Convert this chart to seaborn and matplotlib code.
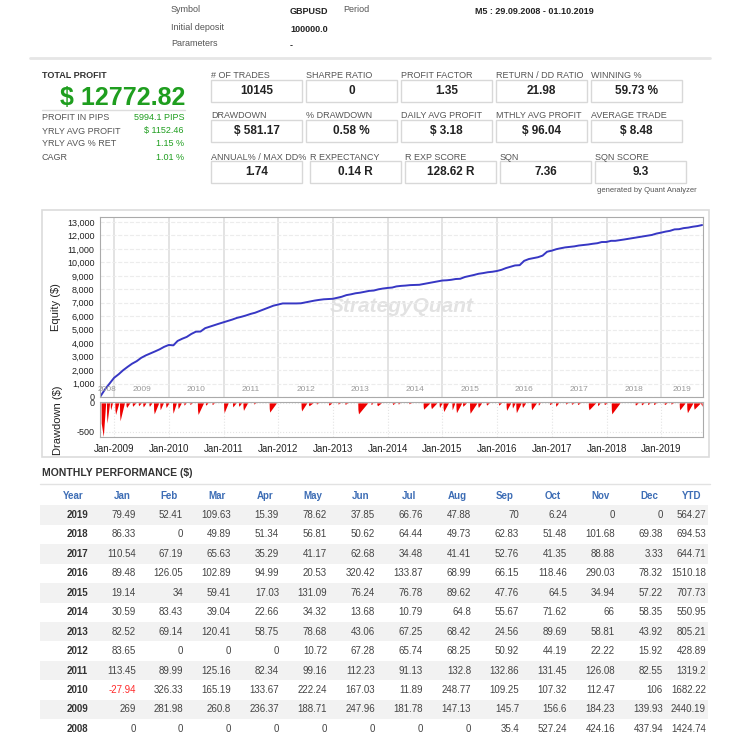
import numpy as np
import pandas as pd
import matplotlib
matplotlib.use("Agg")
import matplotlib.pyplot as plt
import matplotlib.dates as mdates
from matplotlib.patches import Rectangle
import seaborn as sns

# ---------------- data ----------------
months = ["Jan", "Feb", "Mar", "Apr", "May", "Jun", "Jul", "Aug", "Sep", "Oct", "Nov", "Dec"]
years = [2019, 2018, 2017, 2016, 2015, 2014, 2013, 2012, 2011, 2010, 2009, 2008]
m2019 = [79.49, 52.41, 109.63, 15.39, 78.62, 37.85, 66.76, 47.88, 70, 6.24, 0, 0]
m2018 = [86.33, 0, 49.89, 51.34, 56.81, 50.62, 64.44, 49.73, 62.83, 51.48, 101.68, 69.38]
m2017 = [110.54, 67.19, 65.63, 35.29, 41.17, 62.68, 34.48, 41.41, 52.76, 41.35, 88.88, 3.33]
m2016 = [89.48, 126.05, 102.89, 94.99, 20.53, 320.42, 133.87, 68.99, 66.15, 118.46, 290.03, 78.32]
m2015 = [19.14, 34, 59.41, 17.03, 131.09, 76.24, 76.78, 89.62, 47.76, 64.5, 34.94, 57.22]
m2014 = [30.59, 83.43, 39.04, 22.66, 34.32, 13.68, 10.79, 64.8, 55.67, 71.62, 66, 58.35]
m2013 = [82.52, 69.14, 120.41, 58.75, 78.68, 43.06, 67.25, 68.42, 24.56, 89.69, 58.81, 43.92]
m2012 = [83.65, 0, 0, 0, 10.72, 67.28, 65.74, 68.25, 50.92, 44.19, 22.22, 15.92]
m2011 = [113.45, 89.99, 125.16, 82.34, 99.16, 112.23, 91.13, 132.8, 132.86, 131.45, 126.08, 82.55]
m2010 = [-27.94, 326.33, 165.19, 133.67, 222.24, 167.03, 11.89, 248.77, 109.25, 107.32, 112.47, 106]
m2009 = [269, 281.98, 260.8, 236.37, 188.71, 247.96, 181.78, 147.13, 145.7, 156.6, 184.23, 139.93]
m2008 = [0, 0, 0, 0, 0, 0, 0, 0, 35.4, 527.24, 424.16, 437.94]
ytd = [564.27, 694.53, 644.71, 1510.18, 707.73, 550.95, 805.21, 428.89, 1319.2, 1682.22, 2440.19, 1424.74]
monthly = [m2019, m2018, m2017, m2016, m2015, m2014, m2013, m2012, m2011, m2010, m2009, m2008]

# drawdown dips: start, bottom, end, depth ($)
dd_start = ["2008-10-05", "2008-11-10", "2008-12-05", "2009-01-05", "2009-02-05", "2009-03-20", "2009-05-01",
            "2009-06-10", "2009-07-10", "2009-08-20", "2009-09-20", "2009-11-01", "2009-12-10", "2010-01-25",
            "2010-03-01", "2010-04-10", "2010-05-20", "2010-07-10", "2010-09-01", "2010-10-15", "2011-01-01",
            "2011-03-01", "2011-04-10", "2011-05-10", "2011-07-20", "2011-11-01", "2012-06-01", "2012-07-20",
            "2012-09-10", "2012-12-01", "2013-02-01", "2013-03-20", "2013-06-15", "2013-09-10", "2013-10-20",
            "2014-02-01", "2014-03-10", "2014-05-20", "2014-08-25", "2014-10-15", "2014-12-10", "2015-01-05",
            "2015-03-05", "2015-04-01", "2015-05-15", "2015-07-01", "2015-08-25", "2015-10-20", "2016-01-10",
            "2016-03-01", "2016-04-10", "2016-05-05", "2016-06-15", "2016-08-15", "2016-10-01", "2016-12-15",
            "2017-01-25", "2017-04-01", "2017-05-10", "2017-06-20", "2017-09-01", "2017-11-01", "2017-12-15",
            "2018-02-01", "2018-07-10", "2018-08-20", "2018-10-01", "2018-11-10", "2019-01-20", "2019-03-05",
            "2019-05-01", "2019-06-20", "2019-08-05"]
dd_bottom = ["2008-10-20", "2008-11-14", "2008-12-08", "2009-01-10", "2009-02-09", "2009-03-25", "2009-05-04",
             "2009-06-13", "2009-07-14", "2009-08-24", "2009-09-25", "2009-11-04", "2009-12-14", "2010-01-29",
             "2010-03-04", "2010-04-13", "2010-05-22", "2010-07-15", "2010-09-04", "2010-10-18", "2011-01-05",
             "2011-03-04", "2011-04-14", "2011-05-14", "2011-07-22", "2011-11-05", "2012-06-05", "2012-07-25",
             "2012-09-13", "2012-12-05", "2013-02-03", "2013-03-23", "2013-06-20", "2013-09-13", "2013-10-25",
             "2014-02-03", "2014-03-13", "2014-05-23", "2014-08-29", "2014-10-20", "2014-12-13", "2015-01-10",
             "2015-03-08", "2015-04-05", "2015-05-18", "2015-07-05", "2015-08-29", "2015-10-23", "2016-01-13",
             "2016-03-05", "2016-04-13", "2016-05-09", "2016-06-19", "2016-08-19", "2016-10-03", "2016-12-18",
             "2017-01-28", "2017-04-03", "2017-05-13", "2017-06-23", "2017-09-06", "2017-11-03", "2017-12-18",
             "2018-02-05", "2018-07-13", "2018-08-23", "2018-10-03", "2018-11-13", "2019-01-23", "2019-03-08",
             "2019-05-05", "2019-06-25", "2019-08-09"]
dd_end = ["2008-11-05", "2008-12-01", "2008-12-20", "2009-02-01", "2009-03-10", "2009-04-15", "2009-05-25",
          "2009-07-01", "2009-08-01", "2009-09-10", "2009-10-25", "2009-11-25", "2010-01-01", "2010-02-20",
          "2010-03-25", "2010-04-25", "2010-06-05", "2010-08-20", "2010-09-20", "2010-11-01", "2011-02-01",
          "2011-03-25", "2011-05-01", "2011-06-10", "2011-08-05", "2011-12-20", "2012-07-10", "2012-08-20",
          "2012-09-25", "2012-12-25", "2013-02-20", "2013-04-10", "2013-08-20", "2013-09-25", "2013-11-20",
          "2014-02-20", "2014-03-25", "2014-06-10", "2014-10-10", "2014-11-25", "2014-12-30", "2015-02-10",
          "2015-03-25", "2015-05-10", "2015-06-10", "2015-08-20", "2015-09-20", "2015-11-10", "2016-01-30",
          "2016-04-01", "2016-05-01", "2016-06-10", "2016-07-10", "2016-09-20", "2016-10-15", "2017-01-05",
          "2017-02-15", "2017-04-20", "2017-05-30", "2017-07-10", "2017-10-20", "2017-11-20", "2018-01-05",
          "2018-04-01", "2018-08-01", "2018-09-10", "2018-10-20", "2018-11-30", "2019-02-10", "2019-03-25",
          "2019-06-10", "2019-08-01", "2019-09-20"]
dd_depth = [-581, -350, -120, -200, -310, -80, -60, -50, -70, -60, -190, -120, -80, -180,
            -100, -40, -30, -200, -40, -30, -170, -70, -60, -130, -20, -160, -140, -50,
            -20, -40, -20, -25, -190, -30, -50, -30, -20, -15, -110, -100, -80, -150,
            -120, -170, -60, -180, -80, -40, -40, -130, -90, -170, -80, -120, -40, -30,
            -60, -20, -25, -30, -120, -50, -30, -190, -40, -35, -30, -30, -30, -20,
            -120, -170, -110]

# ---------------- derived tables ----------------
rows = []
for y, vals in zip(years, monthly):
    for mi, v in enumerate(vals):
        rows.append({"year": y, "month": mi + 1, "profit": v})
mdf = pd.DataFrame(rows)
mdf["date"] = pd.to_datetime(dict(year=mdf.year, month=mdf.month, day=1)) + pd.offsets.MonthEnd(0)
mdf = mdf.sort_values("date")
mdf = mdf[(mdf.date >= "2008-09-01") & (mdf.date <= "2019-10-31")].copy()
mdf.loc[mdf.date == pd.Timestamp("2019-10-31"), "date"] = pd.Timestamp("2019-10-01")
eq = pd.concat([pd.DataFrame({"date": [pd.Timestamp("2008-09-29")], "equity": [0.0]}),
                pd.DataFrame({"date": mdf.date.values, "equity": mdf.profit.cumsum().values})])

dd_x, dd_y = [pd.Timestamp("2008-09-29")], [0.0]
for s, b, e, d in zip(dd_start, dd_bottom, dd_end, dd_depth):
    dd_x += [pd.Timestamp(s), pd.Timestamp(s) + pd.Timedelta(days=1), pd.Timestamp(b), pd.Timestamp(e)]
    dd_y += [0.0, d * 0.6, d, 0.0]
dd_x.append(pd.Timestamp("2019-10-01")); dd_y.append(-60.0)
dd = pd.DataFrame({"date": dd_x, "dd": dd_y})

# ---------------- figure ----------------
sns.set_style("white")
plt.rcParams["font.family"] = ["Liberation Sans", "DejaVu Sans"]
plt.rcParams["axes.unicode_minus"] = False
W, H = 736, 750
fig = plt.figure(figsize=(W / 100, H / 100), dpi=100)
fig.patch.set_facecolor("white")

GREEN = "#1f9e1f"
LAB = "#555555"
DARK = "#222222"
BLUE_H = "#3d6db5"


def T(x, y, s, **kw):
    kw.setdefault("va", "center")
    return fig.text(x / W, 1 - y / H, s, **kw)


def R(x, y, w, h, **kw):
    r = Rectangle((x / W, 1 - (y + h) / H), w / W, h / H, transform=fig.transFigure, **kw)
    fig.add_artist(r)
    return r


def HL(x0, x1, y, **kw):
    fig.add_artist(plt.Line2D([x0 / W, x1 / W], [1 - y / H, 1 - y / H], transform=fig.transFigure, **kw))


# header
T(171, 10, "Symbol", fontsize=6.5, color=LAB)
T(290, 12, "GBPUSD", fontsize=6.5, color=DARK, fontweight="bold")
T(343, 10, "Period", fontsize=6.5, color=LAB)
T(475, 12, "M5 : 29.09.2008 - 01.10.2019", fontsize=6.5, color=DARK, fontweight="bold")
T(171, 27, "Initial deposit", fontsize=6.5, color=LAB)
T(290, 29, "100000.0", fontsize=6.5, color=DARK, fontweight="bold")
T(171, 44, "Parameters", fontsize=6.5, color=LAB)
T(290, 46, "-", fontsize=6.5, color=DARK, fontweight="bold")
HL(30, 710, 58, color="#e6e6e6", lw=2)

# left stats
T(42, 76, "TOTAL PROFIT", fontsize=6.5, color="#333333", fontweight="bold")
T(185, 98, "$ 12772.82", fontsize=18, color=GREEN, fontweight="bold", ha="right")
HL(42, 185, 110, color="#dddddd", lw=1)
for yy, lab, val in [(118, "PROFIT IN PIPS", "5994.1 PIPS"), (131, "YRLY AVG PROFIT", "$ 1152.46"),
                     (144, "YRLY AVG % RET", "1.15 %"), (157, "CAGR", "1.01 %")]:
    T(42, yy, lab, fontsize=6.5, color=LAB)
    T(184, yy, val, fontsize=6.5, color=GREEN, ha="right")

# stat boxes
box_rows = [
    (76, 80, [("# OF TRADES", "10145"), ("SHARPE RATIO", "0"), ("PROFIT FACTOR", "1.35"),
              ("RETURN / DD RATIO", "21.98"), ("WINNING %", "59.73 %")], [211, 306, 401, 496, 591]),
    (116, 120, [("DRAWDOWN", "$ 581.17"), ("% DRAWDOWN", "0.58 %"), ("DAILY AVG PROFIT", "$ 3.18"),
                ("MTHLY AVG PROFIT", "$ 96.04"), ("AVERAGE TRADE", "$ 8.48")], [211, 306, 401, 496, 591]),
    (157, 161, [("ANNUAL% / MAX DD%", "1.74"), ("R EXPECTANCY", "0.14 R"), ("R EXP SCORE", "128.62 R"),
                ("SQN", "7.36"), ("SQN SCORE", "9.3")], [211, 310, 405, 500, 595]),
]
for ly, by, items, xs in box_rows:
    for x, (lab, val) in zip(xs, items):
        T(x, ly, lab, fontsize=6.5, color=LAB)
        R(x, by, 91, 22, fill=False, ec="#d8d8d8", lw=1)
        T(x + 45.5, by + 11, val, fontsize=8.5, color=DARK, fontweight="bold", ha="center")
T(597, 191, "generated by Quant Analyzer", fontsize=5.5, color=LAB)

# chart panel
R(42, 210, 667, 247, fill=False, ec="#dcdcdc", lw=1.2)
x0, x1 = pd.Timestamp("2008-09-28"), pd.Timestamp("2019-10-07")
ax1 = fig.add_axes([100 / W, 1 - 397 / H, 603 / W, 180 / H])
ax2 = fig.add_axes([100 / W, 1 - 437 / H, 603 / W, 35 / H])

sns.lineplot(data=eq, x="date", y="equity", ax=ax1, color="#3737c4", lw=1.4)
ax1.set_xlim(x0, x1)
ax1.set_ylim(0, 13370)
ax1.set_yticks(np.arange(0, 13001, 1000))
ax1.yaxis.set_major_formatter(matplotlib.ticker.FuncFormatter(lambda v, p: f"{int(v):,}"))
ax1.set_xticks([pd.Timestamp(f"{y}-01-01") for y in range(2009, 2020)])
ax1.set_xticklabels([])
ax1.tick_params(axis="x", length=0)
ax1.tick_params(axis="y", labelsize=6.5, colors=DARK, length=2, pad=2)
ax1.grid(axis="x", color="#dedede", lw=1.2, ls="-")
ax1.grid(axis="y", color="#ececec", lw=0.8, ls="--")
ax1.set_axisbelow(True)
ax1.set_xlabel("")
ax1.set_ylabel("Equity ($)", fontsize=8, color=DARK, labelpad=4)
for s in ax1.spines.values():
    s.set_color("#aaaaaa")
for y in range(2008, 2020):
    a = max(pd.Timestamp(f"{y}-01-01"), x0)
    b = min(pd.Timestamp(f"{y + 1}-01-01"), x1)
    mid = a + (b - a) / 2
    ax1.text(mid, 550, str(y), fontsize=6, color="#999999", ha="center", va="center")
ax1.text(0.5, 0.5, "StrategyQuant", transform=ax1.transAxes, fontsize=15, color="#e2e2e2",
         fontweight="bold", style="italic", ha="center", va="center", zorder=0)

ax2.fill_between(dd.date, dd.dd, 0, color="#ee0000", lw=0)
ax2.set_xlim(x0, x1)
ax2.set_ylim(-590, 15)
ax2.set_yticks([0, -500])
ax2.set_xticks([pd.Timestamp(f"{y}-01-01") for y in range(2009, 2020)])
ax2.xaxis.set_major_formatter(mdates.DateFormatter("%b-%Y"))
ax2.tick_params(axis="x", labelsize=7, colors=DARK, length=2, pad=3)
ax2.tick_params(axis="y", labelsize=6.5, colors=DARK, length=2, pad=2)
ax2.grid(axis="x", color="#e4e4e4", lw=0.8, ls=":")
ax2.grid(axis="y", color="#e4e4e4", lw=0.8, ls=":")
ax2.set_axisbelow(True)
for s in ax2.spines.values():
    s.set_color("#aaaaaa")
ax2.set_xlabel("")
ax2.set_ylabel("")
T(58, 420, "Drawdown ($)", fontsize=8, color=DARK, rotation=90, ha="center")

# monthly performance table
T(42, 473, "MONTHLY PERFORMANCE ($)", fontsize=7.5, color="#333333", fontweight="bold")
HL(40, 710, 484, color="#e2e2e2", lw=1)
headers = ["Year"] + months + ["YTD"]
right_edges = [88, 136, 183, 231, 279, 327, 375, 423, 471, 519, 567, 615, 663, 706]
for h, re in zip(headers, right_edges):
    cx = 73 if h == "Year" else (692 if h == "YTD" else re - 14)
    T(cx, 496, h, fontsize=7, color=BLUE_H, fontweight="bold", ha="center")
row_y0, row_h = 515, 19.45
for i, (y, vals, t) in enumerate(zip(years, monthly, ytd)):
    yy = row_y0 + i * row_h
    if i % 2 == 0:
        R(40, yy - row_h / 2, 668, row_h, color="#f2f2f2", lw=0)
    T(right_edges[0], yy, str(y), fontsize=7, color="#333333", fontweight="bold", ha="right")
    for j, v in enumerate(vals + [t]):
        col = "#ff2a2a" if v < 0 else "#444444"
        T(right_edges[j + 1], yy, f"{v:g}", fontsize=7, color=col, ha="right")

fig.savefig("out.png", dpi=100)
